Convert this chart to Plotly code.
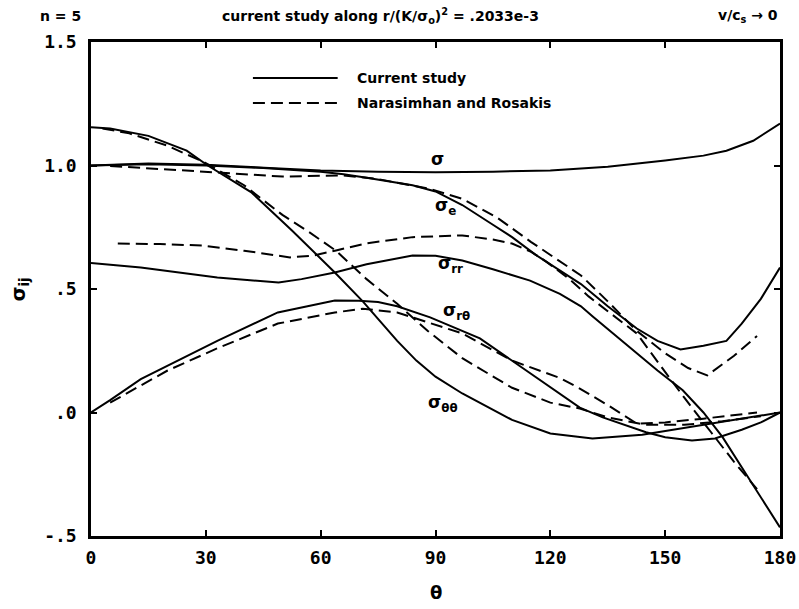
import plotly.graph_objects as go

# ---- data (theta in degrees, stress values) ----
sig_th = [0, 15, 30, 45, 60, 75, 90, 105, 120, 135, 150, 160, 166, 173, 180]
sig_v = [1.0, 1.008, 1.003, 0.99, 0.98, 0.975, 0.973, 0.975, 0.98, 0.995, 1.02, 1.04, 1.06, 1.10, 1.17]

se_th = [0, 15, 30, 45, 60, 66, 72, 78, 84, 90, 97, 105, 110, 116, 122.5, 128, 135, 142.6, 148, 154, 160, 166, 170, 175, 180]
se_v = [1.0, 1.005, 1.0, 0.99, 0.975, 0.965, 0.95, 0.935, 0.92, 0.895, 0.84, 0.76, 0.71, 0.64, 0.575, 0.52, 0.43, 0.34, 0.29, 0.255, 0.27, 0.29, 0.36, 0.46, 0.587]

srr_th = [0, 13, 33, 49, 55, 63.7, 72, 84, 90, 97, 105, 114.7, 122.5, 128, 131, 141.6, 148, 154.6, 160, 165, 170, 175, 180]
srr_v = [0.605, 0.587, 0.547, 0.526, 0.54, 0.567, 0.6, 0.636, 0.635, 0.615, 0.58, 0.534, 0.48, 0.43, 0.39, 0.255, 0.17, 0.09, 0.0, -0.1, -0.22, -0.34, -0.465]

srt_th = [0, 5, 13, 20, 33, 48.8, 63.7, 70, 75, 80, 88.6, 101.6, 114.7, 122.5, 127.7, 133.7, 145, 150, 157, 163, 170, 175, 180]
srt_v = [0.0, 0.05, 0.135, 0.19, 0.29, 0.405, 0.453, 0.452, 0.447, 0.43, 0.385, 0.30, 0.158, 0.077, 0.02, -0.02, -0.08, -0.1, -0.113, -0.105, -0.07, -0.04, 0.0]

stt_th = [0, 5, 15, 25, 30.5, 42, 52.5, 63.7, 71, 75, 80, 85, 90, 97, 110, 120, 127.7, 131, 144, 162, 180]
stt_v = [1.155, 1.15, 1.12, 1.06, 1.0, 0.89, 0.737, 0.567, 0.45, 0.38, 0.29, 0.21, 0.145, 0.077, -0.03, -0.085, -0.10, -0.105, -0.09, -0.045, 0.0]

# Narasimhan and Rosakis (dashed)
nse_th = [5, 20, 30, 40, 50, 60, 66, 75, 82, 88.6, 97, 106, 115, 122.5, 128, 135, 142.6, 150, 156, 161, 168, 174]
nse_v = [0.998, 0.985, 0.975, 0.965, 0.955, 0.96, 0.96, 0.945, 0.925, 0.905, 0.865, 0.79, 0.69, 0.61, 0.555, 0.45, 0.33, 0.24, 0.18, 0.15, 0.23, 0.31]

nrr_th = [7, 18, 29, 40, 52, 58, 64, 72, 84, 97, 105, 110, 115, 119, 125, 130, 135, 142.6, 147.8, 155, 162, 168, 174]
nrr_v = [0.684, 0.682, 0.676, 0.655, 0.628, 0.635, 0.656, 0.685, 0.71, 0.717, 0.70, 0.684, 0.65, 0.61, 0.54, 0.47, 0.41, 0.32, 0.21, 0.06, -0.08, -0.2, -0.31]

nrt_th = [5, 13, 20, 33, 48.8, 63.7, 71, 80, 97, 110, 122.5, 127.7, 135, 142.6, 150, 160, 174]
nrt_v = [0.04, 0.11, 0.17, 0.26, 0.36, 0.405, 0.42, 0.405, 0.32, 0.21, 0.14, 0.097, 0.03, -0.045, -0.04, -0.025, 0.0]

ntt_th = [3, 10, 20, 30, 40, 50, 57, 64, 72, 80, 88, 97, 110, 120, 127.7, 135, 145, 155, 165, 175]
ntt_v = [1.15, 1.13, 1.08, 1.01, 0.92, 0.80, 0.73, 0.655, 0.54, 0.44, 0.33, 0.22, 0.10, 0.04, 0.016, -0.02, -0.05, -0.05, -0.035, -0.015]

x_ticks = [0, 30, 60, 90, 120, 150, 180]
y_ticks = [-0.5, 0.0, 0.5, 1.0, 1.5]
y_ticktext = ["-.5", ".0", ".5", "1.0", "1.5"]

LW = 2
DASH = "12px,6px"

fig = go.Figure()
solid = [(sig_th, sig_v, "σ"), (se_th, se_v, "σe"), (srr_th, srr_v, "σrr"),
         (srt_th, srt_v, "σrθ"), (stt_th, stt_v, "σθθ")]
dashed = [(nse_th, nse_v, "σe NR"), (nrr_th, nrr_v, "σrr NR"),
          (nrt_th, nrt_v, "σrθ NR"), (ntt_th, ntt_v, "σθθ NR")]
for xs, ys, nm in solid:
    fig.add_trace(go.Scatter(x=xs, y=ys, mode="lines", name=nm,
                             line=dict(color="black", width=LW), showlegend=False))
for xs, ys, nm in dashed:
    fig.add_trace(go.Scatter(x=xs, y=ys, mode="lines", name=nm,
                             line=dict(color="black", width=LW, dash=DASH), showlegend=False))

tickfont = dict(family="DejaVu Sans Mono", size=18, color="black", weight="bold")
fig.update_xaxes(range=[0, 180], tickvals=x_ticks, ticktext=[str(t) for t in x_ticks],
                 showline=True, linewidth=2.5, linecolor="black", mirror="ticks",
                 ticks="inside", ticklen=6, tickwidth=2, tickcolor="black", automargin=False,
                 showgrid=False, zeroline=False, tickfont=tickfont, ticklabelstandoff=4)
fig.update_yaxes(range=[-0.5, 1.5], tickvals=y_ticks, ticktext=y_ticktext,
                 showline=True, linewidth=2.5, linecolor="black", mirror="ticks",
                 ticks="inside", ticklen=6, tickwidth=2, tickcolor="black", automargin=False,
                 showgrid=False, zeroline=False, tickfont=tickfont, ticklabelstandoff=8)

hfont = dict(family="DejaVu Sans", size=14, color="black")
lab = dict(family="DejaVu Sans", size=17, color="black")
lgfont = dict(family="DejaVu Sans", size=14, color="black")
ann = [
    dict(x=-0.077, y=1.052, xref="paper", yref="paper", xanchor="left", yanchor="middle",
         text="<b>n = 5</b>", showarrow=False, font=hfont),
    dict(x=0.42, y=1.052, xref="paper", yref="paper", xanchor="center", yanchor="middle",
         text="<b>current study along r/(K/σ<sub>o</sub>)<sup>2</sup> = .2033e-3</b>", showarrow=False, font=hfont),
    dict(x=1.0, y=1.052, xref="paper", yref="paper", xanchor="right", yanchor="middle",
         text="<b>v/c<sub>s</sub> → 0</b>", showarrow=False, font=hfont),
    dict(x=-0.104, y=0.5, xref="paper", yref="paper", xanchor="center", yanchor="middle", textangle=-90,
         text="<b>σ<sub>ij</sub></b>", showarrow=False, font=dict(family="DejaVu Sans", size=19, color="black")),
    dict(x=0.5, y=-0.115, xref="paper", yref="paper", xanchor="center", yanchor="middle",
         text="<b>θ</b>", showarrow=False, font=dict(family="DejaVu Sans", size=18, color="black")),
    dict(x=0.383, y=0.927, xref="paper", yref="paper", xanchor="left", yanchor="middle",
         text="<b>Current study</b>", showarrow=False, font=lgfont),
    dict(x=0.383, y=0.8765, xref="paper", yref="paper", xanchor="left", yanchor="middle",
         text="<b>Narasimhan and Rosakis</b>", showarrow=False, font=lgfont),
    dict(x=90.6, y=1.025, text="<b>σ</b>", showarrow=False, font=lab),
    dict(x=92.5, y=0.835, text="<b>σ<sub>e</sub></b>", showarrow=False, font=lab),
    dict(x=94, y=0.6, text="<b>σ<sub>rr</sub></b>", showarrow=False, font=lab),
    dict(x=95.5, y=0.41, text="<b>σ<sub>rθ</sub></b>", showarrow=False, font=lab),
    dict(x=92, y=0.035, text="<b>σ<sub>θθ</sub></b>", showarrow=False, font=lab),
]
shapes = [
    dict(type="line", xref="paper", yref="paper", x0=0.235, x1=0.358, y0=0.927, y1=0.927,
         line=dict(color="black", width=LW)),
    dict(type="line", xref="paper", yref="paper", x0=0.235, x1=0.358, y0=0.8765, y1=0.8765,
         line=dict(color="black", width=LW, dash=DASH)),
]
fig.update_layout(width=799, height=609, margin=dict(l=91, r=19, t=42, b=73, autoexpand=False),
                  paper_bgcolor="white", plot_bgcolor="white",
                  annotations=ann, shapes=shapes, showlegend=False)
fig.write_html("out.html")
